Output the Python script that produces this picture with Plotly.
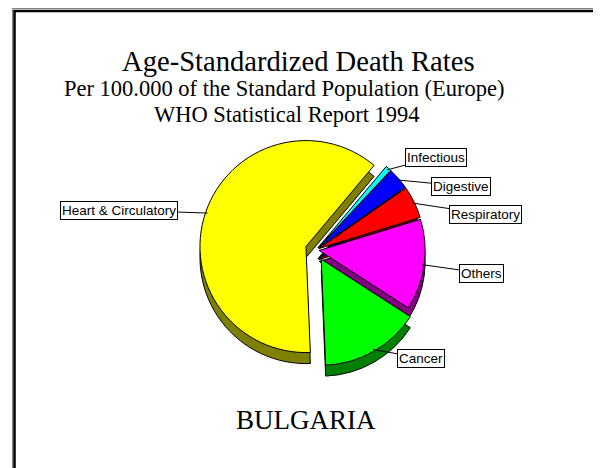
import math
import plotly.graph_objects as go

# The page body has an 8px margin, so the figure is sized to fit the window
OFF = 8
W, H = 601 - OFF, 468 - OFF

categories = ["Infectious", "Digestive", "Respiratory", "Others", "Cancer", "Heart & Circulatory"]
values = [10, 37, 55, 155, 170, 690]
colors_top = ["#00FFFF", "#0000FF", "#FF0000", "#FF00FF", "#00FF00", "#FFFF00"]
colors_side = ["#008080", "#000080", "#800000", "#800080", "#008000", "#808000"]
pulls = [0.03, 0.03, 0.03, 0.03, 0.1, 0.1]
rotation = 40

title_lines = ["Age-Standardized Death Rates",
               "Per 100.000 of the Standard Population (Europe)",
               "WHO Statistical Report 1994"]
country = "BULGARIA"

# label box centres (screen pixels)
label_box = {
    "Infectious": (436, 157),
    "Digestive": (461, 186),
    "Respiratory": (485, 214),
    "Others": (481, 273),
    "Cancer": (421, 358),
    "Heart & Circulatory": (119, 210),
}


def px(x):
    return (x - OFF) / W


def py(y):
    return 1 - (y - OFF) / H


cx, cy, r = 316, 250, 106
half = r * (1 + max(pulls))
depth = 11

fig = go.Figure()
common = dict(labels=categories, values=values, sort=False, direction="clockwise",
              rotation=rotation, pull=pulls, textinfo="none", hoverinfo="skip",
              showlegend=False)
# side walls: the same pie in darker colours, shifted down
fig.add_trace(go.Pie(
    **common,
    marker=dict(colors=colors_side, line=dict(color="black", width=1)),
    domain=dict(x=[px(cx - half), px(cx + half)], y=[py(cy + depth + half), py(cy + depth - half)]),
))
# top face
fig.add_trace(go.Pie(
    **common,
    marker=dict(colors=colors_top, line=dict(color="black", width=1)),
    domain=dict(x=[px(cx - half), px(cx + half)], y=[py(cy + half), py(cy - half)]),
))

annotations = []
title_fonts = [28.6, 22.5, 22.5]
title_y = [62, 88, 114]
title_x = [298, 284, 287]
for t, s, yy, xx in zip(title_lines, title_fonts, title_y, title_x):
    annotations.append(dict(text=t, x=px(xx), y=py(yy), xref="paper", yref="paper",
                            xanchor="center", yanchor="middle", showarrow=False,
                            font=dict(family="Liberation Serif", size=s, color="black")))
annotations.append(dict(text=country, x=px(306), y=py(420), xref="paper", yref="paper",
                        xanchor="center", yanchor="middle", showarrow=False,
                        font=dict(family="Liberation Serif", size=27, color="black")))

# leader lines go from the label box to the outer edge of each slice's top face
total = sum(values)
cum = 0
for cat, v, p in zip(categories, values, pulls):
    mid = math.radians(rotation + 360 * (cum + v / 2) / total)
    cum += v
    rr = r * (1 + p) - 2
    ax_ = cx + rr * math.sin(mid)
    ay_ = cy - rr * math.cos(mid)
    bx, by = label_box[cat]
    annotations.append(dict(
        text=cat, x=px(ax_), y=py(ay_), xref="paper", yref="paper",
        showarrow=True, arrowhead=0, arrowwidth=1, arrowcolor="black",
        ax=bx - ax_, ay=by - ay_,
        bordercolor="black", borderwidth=1, borderpad=1, bgcolor="white",
        font=dict(family="Liberation Sans", size=13.5, color="black"),
    ))

shapes = [
    dict(type="rect", xref="paper", yref="paper", x0=px(12.5), x1=px(598.5), y0=py(490), y1=py(8.5),
         line=dict(color="#808080", width=1), fillcolor="rgba(0,0,0,0)"),
    dict(type="rect", xref="paper", yref="paper", x0=px(14.5), x1=px(597), y0=py(490), y1=py(11),
         line=dict(color="black", width=2.5), fillcolor="rgba(0,0,0,0)"),
]

fig.update_layout(
    width=W, height=H, margin=dict(l=0, r=0, t=0, b=0),
    paper_bgcolor="white", plot_bgcolor="white",
    annotations=annotations, shapes=shapes, showlegend=False,
)

fig.write_html("out.html")
